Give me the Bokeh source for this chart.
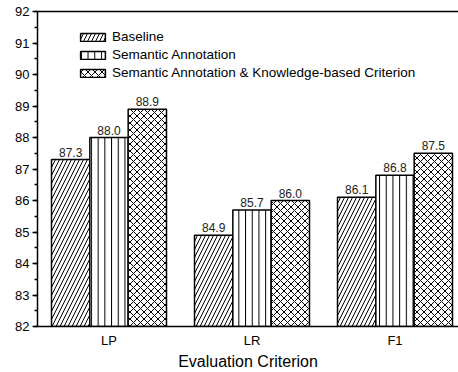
from bokeh.plotting import figure
from bokeh.models import (Range1d, LinearAxis, SingleIntervalTicker, FixedTicker,
                          Legend, LegendItem, ColumnDataSource)
from bokeh.core.properties import value
from bokeh.embed import file_html
from bokeh.resources import INLINE

categories = ["LP", "LR", "F1"]
series_names = ["Baseline", "Semantic Annotation",
                "Semantic Annotation & Knowledge-based Criterion"]
baseline = [87.3, 84.9, 86.1]
semantic = [88.0, 85.7, 86.8]
semantic_kb = [88.9, 86.0, 87.5]
x_title = "Evaluation Criterion"
y_min, y_max = 82, 92

FONT = "Liberation Sans"
series = [baseline, semantic, semantic_kb]
hatches = ["/", "|", "x"]
hatch_scales = [8, 6.7, 7]
bar_w = 0.268
offsets = [-bar_w, 0.0, bar_w]

p = figure(width=458, height=372, output_backend="svg", toolbar_location=None,
           x_range=Range1d(0, 2.944), y_range=Range1d(y_min, y_max),
           min_border_left=37, min_border_right=0, min_border_top=11,
           min_border_bottom=45, x_axis_type=None, y_axis_type=None)
p.outline_line_color = None
p.grid.visible = False
p.background_fill_color = "white"
p.border_fill_color = "white"

xc = [i + 0.5 for i in range(len(categories))]

# left axis
ya = LinearAxis(ticker=SingleIntervalTicker(interval=1, num_minor_ticks=2))
ya.major_tick_out = 5
ya.major_tick_in = 0
ya.minor_tick_out = 3
ya.minor_tick_in = 0
ya.axis_line_width = 1.5
ya.major_tick_line_width = 1.5
ya.minor_tick_line_width = 1.5
ya.major_label_text_font = FONT
ya.major_label_text_font_size = "13px"
ya.major_label_text_color = "black"
ya.major_label_standoff = 3
p.add_layout(ya, "left")

# bottom axis
xa = LinearAxis(ticker=FixedTicker(ticks=xc))
xa.major_label_overrides = {x: c for x, c in zip(xc, categories)}
xa.major_tick_line_color = None
xa.minor_tick_line_color = None
xa.axis_line_width = 1.5
xa.major_label_text_font = FONT
xa.major_label_text_font_size = "13px"
xa.major_label_text_color = "black"
xa.major_label_standoff = 0
xa.axis_label = x_title
xa.axis_label_text_font = FONT
xa.axis_label_text_font_size = "16px"
xa.axis_label_text_font_style = "normal"
xa.axis_label_text_color = "black"
xa.axis_label_standoff = 2
p.add_layout(xa, "below")

# top line
ta = LinearAxis(ticker=FixedTicker(ticks=[]))
ta.major_tick_line_color = None
ta.minor_tick_line_color = None
ta.major_label_text_font_size = "0px"
ta.major_label_standoff = 0
ta.axis_line_width = 1.5
p.add_layout(ta, "above")

items = []
for name, vals, h, hs, off in zip(series_names, series, hatches, hatch_scales, offsets):
    src = ColumnDataSource(dict(x=[c + off for c in xc], top=vals,
                                label=[f"{v:.1f}" for v in vals]))
    r = p.vbar(x="x", top="top", bottom=y_min, width=bar_w, source=src,
               fill_color="white", line_color="black", line_width=1.5,
               hatch_pattern=h, hatch_color="black", hatch_weight=1,
               hatch_scale=hs)
    p.text(x="x", y="top", text="label", source=src, text_align="center",
           text_baseline="bottom", y_offset=-3, text_font=value(FONT),
           text_font_size="12px", text_color="#222222")
    items.append(LegendItem(label=name, renderers=[r]))

legend = Legend(items=items, location=(40, 246))
legend.border_line_color = None
legend.background_fill_alpha = 0
legend.glyph_width = 31
legend.glyph_height = 10
legend.label_height = 14
legend.label_standoff = 4
legend.spacing = 3
legend.padding = 0
legend.margin = 0
legend.label_text_font = FONT
legend.label_text_font_size = "13.5px"
legend.label_text_color = "black"
p.add_layout(legend, "center")

open("out.html", "w").write(file_html(p, INLINE))
